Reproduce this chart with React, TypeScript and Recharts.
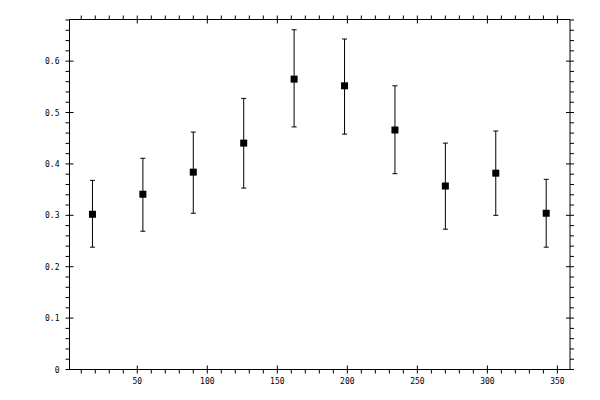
import { ScatterChart, Scatter, XAxis, YAxis, ErrorBar } from 'recharts'

const xValues = [18, 54, 90, 126, 162, 198, 234, 270, 306, 342]
const yValues = [0.302, 0.341, 0.384, 0.4405, 0.565, 0.552, 0.466, 0.357, 0.382, 0.304]
const yLower = [0.238, 0.269, 0.304, 0.353, 0.472, 0.458, 0.381, 0.273, 0.3, 0.238]
const yUpper = [0.368, 0.411, 0.462, 0.5275, 0.661, 0.643, 0.552, 0.4405, 0.464, 0.37]

const xTicks = [
  10, 20, 30, 40, 50, 60, 70, 80, 90, 100, 110, 120, 130, 140, 150, 160, 170, 180,
  190, 200, 210, 220, 230, 240, 250, 260, 270, 280, 290, 300, 310, 320, 330, 340, 350,
]
const yTicks = [
  0, 0.02, 0.04, 0.06, 0.08, 0.1, 0.12, 0.14, 0.16, 0.18, 0.2, 0.22, 0.24, 0.26, 0.28,
  0.3, 0.32, 0.34, 0.36, 0.38, 0.4, 0.42, 0.44, 0.46, 0.48, 0.5, 0.52, 0.54, 0.56, 0.58,
  0.6, 0.62, 0.64, 0.66, 0.68,
]

const data = xValues.map((x, i) => ({
  x,
  y: yValues[i],
  err: [yValues[i] - yLower[i], yUpper[i] - yValues[i]],
}))

const font = { fontFamily: '"DejaVu Sans Mono", monospace', fontSize: 8, fill: '#000' }

const isMajorX = (v: number) => v % 50 === 0
const isMajorY = (v: number) => Math.round(v * 100) % 10 === 0

function BottomTick({ x, y, payload }: any) {
  const major = isMajorX(payload.value)
  return (
    <g>
      <line x1={x} x2={x} y1={major ? y - 4 : y} y2={y + 4} stroke="#000" />
      {major && (
        <text x={x} y={y + 14} textAnchor="middle" style={font}>
          {payload.value}
        </text>
      )}
    </g>
  )
}

function TopTick({ x, y, payload }: any) {
  const major = isMajorX(payload.value)
  return <line x1={x} x2={x} y1={y - 4} y2={major ? y + 4 : y} stroke="#000" />
}

function LeftTick({ x, y, payload }: any) {
  const major = isMajorY(payload.value)
  return (
    <g>
      <line x1={x - 4} x2={major ? x + 4 : x} y1={y} y2={y} stroke="#000" />
      {major && (
        <text x={x - 10} y={y + 3} textAnchor="end" style={font}>
          {String(Math.round(payload.value * 10) / 10)}
        </text>
      )}
    </g>
  )
}

function RightTick({ x, y, payload }: any) {
  const major = isMajorY(payload.value)
  return <line x1={major ? x - 4 : x} x2={x + 4} y1={y} y2={y} stroke="#000" />
}

function SquareMarker({ cx, cy }: any) {
  return <rect x={cx - 3.5} y={cy - 3.5} width={7} height={7} fill="#000" />
}

export default function App() {
  return (
    <div style={{ position: 'absolute', left: 0, top: 0, width: 600, height: 400, background: '#fff' }}>
      <ScatterChart width={600} height={400} margin={{ top: 0, right: 0, bottom: 0, left: 0 }}>
        <XAxis
          type="number"
          dataKey="x"
          domain={[1.6, 359]}
          ticks={xTicks}
          interval={0}
          height={30.5}
          tickSize={0}
          tickMargin={0}
          tickLine={false}
          tick={<BottomTick />}
          axisLine={{ stroke: '#000' }}
          allowDataOverflow
        />
        <XAxis
          xAxisId="top"
          orientation="top"
          type="number"
          dataKey="x"
          domain={[1.6, 359]}
          ticks={xTicks}
          interval={0}
          height={19.5}
          tickSize={0}
          tickMargin={0}
          tickLine={false}
          tick={<TopTick />}
          axisLine={{ stroke: '#000' }}
          allowDataOverflow
        />
        <YAxis
          type="number"
          dataKey="y"
          domain={[0, 0.681]}
          ticks={yTicks}
          interval={0}
          width={69.5}
          tickSize={0}
          tickMargin={0}
          tickLine={false}
          tick={<LeftTick />}
          axisLine={{ stroke: '#000' }}
          allowDataOverflow
        />
        <YAxis
          yAxisId="right"
          orientation="right"
          type="number"
          dataKey="y"
          domain={[0, 0.681]}
          ticks={yTicks}
          interval={0}
          width={30}
          tickSize={0}
          tickMargin={0}
          tickLine={false}
          tick={<RightTick />}
          axisLine={{ stroke: '#000' }}
          allowDataOverflow
        />
        <Scatter data={data} shape={<SquareMarker />} isAnimationActive={false}>
          <ErrorBar dataKey="err" direction="y" width={2.5} stroke="#000" strokeWidth={1} />
        </Scatter>
      </ScatterChart>
    </div>
  )
}
